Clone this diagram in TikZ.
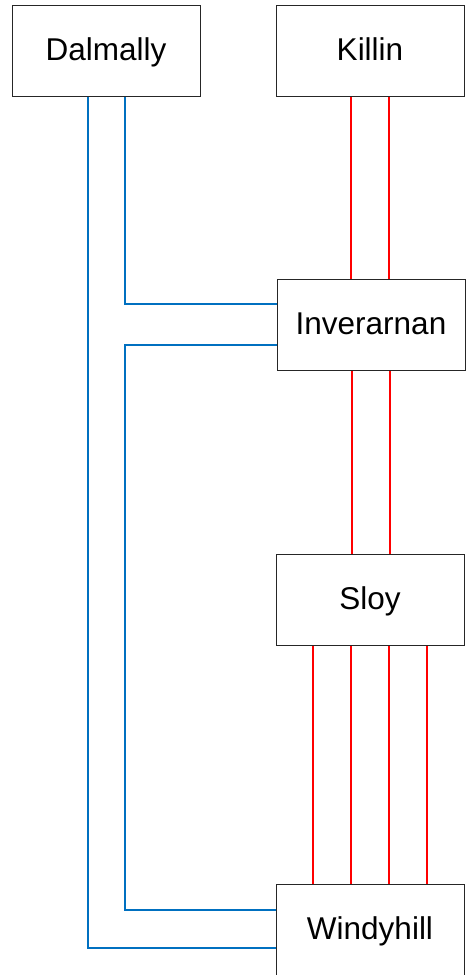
\documentclass[tikz,border=0pt]{standalone}
\usepackage{fontspec}
\setmainfont{Liberation Sans}
\definecolor{feedblue}{RGB}{0,112,192}
\definecolor{feedred}{RGB}{255,0,0}
\begin{document}
\begin{tikzpicture}[x=1pt,y=-1pt,
  station/.style={draw=black!85,line width=1pt,fill=white,minimum width=188pt,minimum height=91pt,
    inner sep=0pt,text height=23pt,text depth=4pt,font=\fontsize{31.5}{38}\selectfont},
  blueline/.style={draw=feedblue,line width=1.6pt},
  redline/.style={draw=feedred,line width=1.5pt}]
\useasboundingbox (0,0) rectangle (472,975);

% bend points of the blue circuits
\coordinate (b1) at (88,948);
\coordinate (b2) at (125,304);
\coordinate (b3) at (125,345);
\coordinate (b4) at (125,910);

% stations
\node[station] (dal) at (106,50.5) {Dalmally};
\node[station] (kil) at (370,50.5) {Killin};
\node[station] (inv) at (371,325) {Inverarnan};
\node[station] (sloy) at (370,600) {Sloy};
\node[station,minimum height=92pt] (wh) at (370,930) {Windyhill};

% blue circuits
\draw[blueline] (dal.south -| b1) -- (b1) -- (wh.west |- b1);
\draw[blueline] (dal.south -| b2) -- (b2) -- (inv.west |- b2);
\draw[blueline] (inv.west |- b3) -- (b3) -- (b4) -- (wh.west |- b4);

% red circuits
\foreach \dx in {-19,19}{
  \draw[redline] ([xshift=\dx pt]kil.south) -- ([xshift=\dx pt]kil.south |- inv.north);
  \draw[redline] ([xshift=\dx pt]inv.south) -- ([xshift=\dx pt]inv.south |- sloy.north);
}
\foreach \dx in {-57,-19,19,57}{
  \draw[redline] ([xshift=\dx pt]sloy.south) -- ([xshift=\dx pt]sloy.south |- wh.north);
}
\end{tikzpicture}
\end{document}
